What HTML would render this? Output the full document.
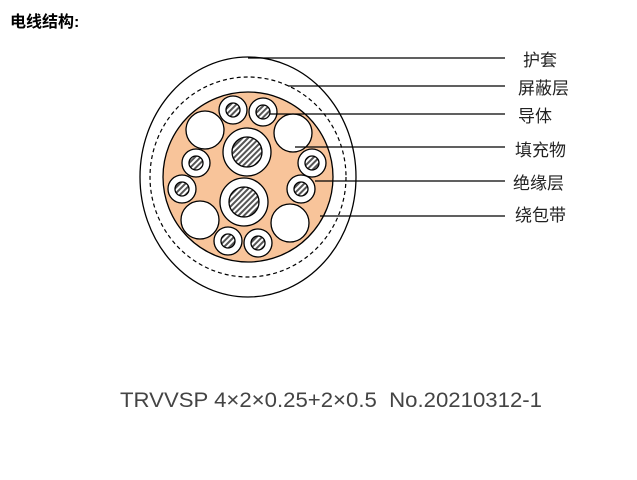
<!DOCTYPE html>
<html><head><meta charset="utf-8"><style>
html,body{margin:0;padding:0;background:#fff;width:637px;height:480px;overflow:hidden}
</style></head><body>
<svg width="637" height="480" viewBox="0 0 637 480" xmlns="http://www.w3.org/2000/svg">
<defs>
<pattern id="h" patternUnits="userSpaceOnUse" width="4" height="4" patternTransform="rotate(45)">
<rect width="4" height="4" fill="#fff"/><rect width="2" height="4" fill="#555"/>
</pattern>
</defs>
<text x="10" y="27" font-family="Liberation Sans, Noto Sans CJK SC, sans-serif" font-size="16" font-weight="bold" fill="#000">电线结构:</text>
<ellipse cx="248" cy="177" rx="108" ry="120" fill="#fff" stroke="#000" stroke-width="1.3"/>
<ellipse cx="248" cy="177" rx="98" ry="100" fill="none" stroke="#000" stroke-width="1.2" stroke-dasharray="4,3"/>
<circle cx="248" cy="177" r="85" fill="#f8c49a" stroke="#000" stroke-width="1.3"/>
<g stroke="#000" stroke-width="1.3">
<circle cx="247" cy="152" r="24" fill="#fff"/><circle cx="247" cy="152" r="15" fill="url(#h)"/>
<circle cx="244" cy="202" r="24" fill="#fff"/><circle cx="244" cy="202" r="15" fill="url(#h)"/>
<circle cx="205" cy="130" r="19" fill="#fff"/>
<circle cx="293" cy="133" r="19" fill="#fff"/>
<circle cx="200" cy="220" r="19" fill="#fff"/>
<circle cx="290" cy="223" r="19" fill="#fff"/>
<g fill="#fff">
<circle cx="233" cy="110" r="14"/><circle cx="263" cy="112" r="14"/>
<circle cx="196" cy="163" r="14"/><circle cx="312" cy="163" r="14"/>
<circle cx="182" cy="189" r="14"/><circle cx="301" cy="189" r="14"/>
<circle cx="228" cy="241" r="14"/><circle cx="258" cy="243" r="14"/>
</g>
<g fill="url(#h)">
<circle cx="233" cy="110" r="7"/><circle cx="263" cy="112" r="7"/>
<circle cx="196" cy="163" r="7"/><circle cx="312" cy="163" r="7"/>
<circle cx="182" cy="189" r="7"/><circle cx="301" cy="189" r="7"/>
<circle cx="228" cy="241" r="7"/><circle cx="258" cy="243" r="7"/>
</g>
</g>
<g stroke="#000" stroke-width="1.2">
<line x1="248" y1="58" x2="505" y2="58"/>
<line x1="288" y1="86" x2="505" y2="86"/>
<line x1="270" y1="114" x2="505" y2="114"/>
<line x1="295" y1="147" x2="505" y2="147"/>
<line x1="315" y1="181" x2="505" y2="181"/>
<line x1="320" y1="216" x2="505" y2="216"/>
</g>
<g font-family="Liberation Sans, Noto Sans CJK SC, sans-serif" font-size="17" fill="#222">
<text x="523" y="66">护套</text>
<text x="518" y="94">屏蔽层</text>
<text x="518" y="122">导体</text>
<text x="515" y="156">填充物</text>
<text x="513" y="189">绝缘层</text>
<text x="515" y="221">绕包带</text>
</g>
<text x="120" y="407" font-family="Liberation Sans, sans-serif" font-size="21" fill="#444" textLength="422" lengthAdjust="spacingAndGlyphs">TRVVSP 4×2×0.25+2×0.5&#160; No.20210312-1</text>
</svg>
</body></html>
